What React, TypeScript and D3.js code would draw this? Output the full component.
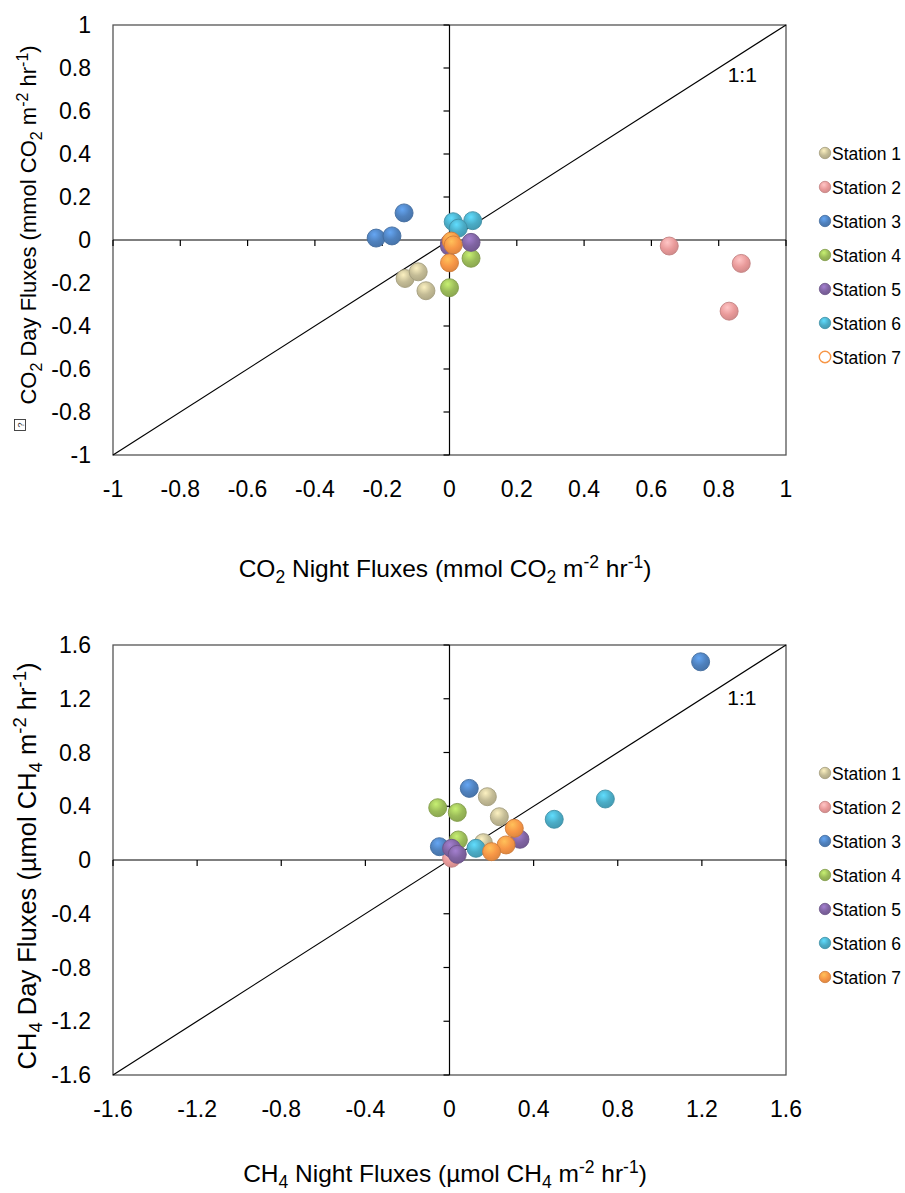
import React from "react";
import * as d3 from "d3";

const stations = ["Station 1", "Station 2", "Station 3", "Station 4", "Station 5", "Station 6", "Station 7"];
const stationColors = ["#C4BC96", "#E99A9A", "#4F81BD", "#9BBB59", "#8064A2", "#4BACC6", "#F79646"];

// CO2 fluxes (mmol CO2 m-2 hr-1): night (x) vs day (y), per station
const co2Night = [
  [-0.132, -0.093, -0.07],
  [0.653, 0.867, 0.831],
  [-0.135, -0.218, -0.171],
  [0.064, 0.0],
  [0.064, 0.0, 0.0],
  [0.011, 0.069, 0.026],
  [0.005, 0.011, 0.0],
];
const co2Day = [
  [-0.179, -0.148, -0.236],
  [-0.028, -0.109, -0.331],
  [0.126, 0.009, 0.019],
  [-0.085, -0.222],
  [-0.011, -0.015, -0.03],
  [0.085, 0.09, 0.055],
  [-0.005, -0.023, -0.106],
];

// CH4 fluxes (umol CH4 m-2 hr-1): night (x) vs day (y), per station
const ch4Night = [
  [0.18, 0.237, 0.161],
  [0.01],
  [1.194, 0.094, -0.048],
  [-0.056, 0.037, 0.042],
  [0.335, 0.01, 0.037],
  [0.126, 0.498, 0.741],
  [0.308, 0.269, 0.2],
];
const ch4Day = [
  [0.471, 0.322, 0.129],
  [0.013],
  [1.475, 0.533, 0.099],
  [0.389, 0.354, 0.149],
  [0.154, 0.087, 0.042],
  [0.087, 0.303, 0.454],
  [0.236, 0.112, 0.062],
];

const co2Ticks = [-1, -0.8, -0.6, -0.4, -0.2, 0, 0.2, 0.4, 0.6, 0.8, 1];
const ch4Ticks = [-1.6, -1.2, -0.8, -0.4, 0, 0.4, 0.8, 1.2, 1.6];

type Seg = { t: string; s?: "sub" | "sup" };

const co2XTitle: Seg[] = [
  { t: "CO" }, { t: "2", s: "sub" }, { t: " Night Fluxes (mmol CO" }, { t: "2", s: "sub" },
  { t: " m" }, { t: "-2", s: "sup" }, { t: " hr" }, { t: "-1", s: "sup" }, { t: ")" },
];
const co2YTitle: Seg[] = [
  { t: "CO" }, { t: "2", s: "sub" }, { t: " Day Fluxes (mmol CO" }, { t: "2", s: "sub" },
  { t: " m" }, { t: "-2", s: "sup" }, { t: " hr" }, { t: "-1", s: "sup" }, { t: ")" },
];
const ch4XTitle: Seg[] = [
  { t: "CH" }, { t: "4", s: "sub" }, { t: " Night Fluxes (µmol CH" }, { t: "4", s: "sub" },
  { t: " m" }, { t: "-2", s: "sup" }, { t: " hr" }, { t: "-1", s: "sup" }, { t: ")" },
];
const ch4YTitle: Seg[] = [
  { t: "CH" }, { t: "4", s: "sub" }, { t: " Day Fluxes (µmol CH" }, { t: "4", s: "sub" },
  { t: " m" }, { t: "-2", s: "sup" }, { t: " hr" }, { t: "-1", s: "sup" }, { t: ")" },
];

const FONT = "Liberation Sans, Arial, sans-serif";

function RichText({ segs, size, small, x, y, transform, anchor = "middle" }: { segs: Seg[]; size: number; small: number; x: number; y: number; transform?: string; anchor?: string }) {
  let cur = 0;
  return (
    <text x={x} y={y} transform={transform} textAnchor={anchor} fontFamily={FONT} fontSize={size} fill="#000">
      {segs.map((sg, i) => {
        const target = sg.s === "sub" ? size * 0.25 : sg.s === "sup" ? -size * 0.38 : 0;
        const dy = target - cur;
        cur = target;
        return (
          <tspan key={i} dy={dy} fontSize={sg.s ? small : size}>
            {sg.t}
          </tspan>
        );
      })}
    </text>
  );
}

function Gradients() {
  return (
    <defs>
      {stationColors.map((c, i) => {
        const col = d3.color(c)!;
        return (
          <radialGradient key={i} id={`g${i}`} cx="40%" cy="30%" r="75%">
            <stop offset="0%" stopColor={d3.color(c)!.brighter(0.7).formatHex()} />
            <stop offset="55%" stopColor={col.formatHex()} />
            <stop offset="100%" stopColor={d3.color(c)!.darker(0.35).formatHex()} />
          </radialGradient>
        );
      })}
    </defs>
  );
}

type PanelProps = {
  top: number;
  bottom: number;
  domain: [number, number];
  ticks: number[];
  xs: number[][];
  ys: number[][];
  xTitle: Seg[];
  yTitle: Seg[];
  yTitleCenter: number;
  yTitleSize: [number, number];
  xTitleY: number;
  legendTop: number;
  hollowLast: boolean;
  oneToOne: [number, number];
  tickFmt: (v: number) => string;
  glyph?: boolean;
};

function Panel(p: PanelProps) {
  const left = 113, right = 786;
  const x = d3.scaleLinear().domain(p.domain).range([left, right]);
  const y = d3.scaleLinear().domain(p.domain).range([p.bottom, p.top]);
  const x0 = x(0), y0 = y(0);
  const tickLen = 6;
  return (
    <g>
      <rect x={left} y={p.top} width={right - left} height={p.bottom - p.top} fill="none" stroke="#555" strokeWidth={1.3} />
      {/* 1:1 line */}
      <line x1={x(p.domain[0])} y1={y(p.domain[0])} x2={x(p.domain[1])} y2={y(p.domain[1])} stroke="#000" strokeWidth={1.2} />
      {/* zero axes */}
      <line x1={left} x2={right} y1={y0} y2={y0} stroke="#000" strokeWidth={1.2} />
      <line x1={x0} x2={x0} y1={p.top} y2={p.bottom} stroke="#000" strokeWidth={1.2} />
      {p.ticks.map((t, i) => (
        <g key={i}>
          <line x1={x(t)} x2={x(t)} y1={y0} y2={y0 + tickLen} stroke="#000" strokeWidth={1.2} />
          <line x1={x0 - tickLen} x2={x0} y1={y(t)} y2={y(t)} stroke="#000" strokeWidth={1.2} />
          <text x={x(t)} y={p.bottom + 42} textAnchor="middle" fontFamily={FONT} fontSize={23} fill="#000">{p.tickFmt(t)}</text>
          <text x={91} y={y(t) + 8} textAnchor="end" fontFamily={FONT} fontSize={23} fill="#000">{p.tickFmt(t)}</text>
        </g>
      ))}
      <text x={x(p.oneToOne[0])} y={y(p.oneToOne[1]) + 8} textAnchor="middle" fontFamily={FONT} fontSize={21} fill="#000">1:1</text>
      {/* points */}
      {p.xs.map((arr, si) =>
        arr.map((v, j) => (
          <circle key={`${si}-${j}`} cx={x(v)} cy={y(p.ys[si][j])} r={9} fill={`url(#g${si})`} stroke={d3.color(stationColors[si])!.darker(0.5).formatHex()} strokeWidth={0.9} />
        ))
      )}
      {/* legend */}
      {stations.map((s, i) => {
        const ly = p.legendTop + i * 34;
        const hollow = p.hollowLast && i === stations.length - 1;
        return (
          <g key={s}>
            <circle cx={825} cy={ly} r={5.7} fill={hollow ? "#fff" : `url(#g${i})`} stroke={hollow ? stationColors[i] : d3.color(stationColors[i])!.darker(0.5).formatHex()} strokeWidth={hollow ? 1.4 : 0.8} />
            <text x={832} y={ly + 6.5} fontFamily={FONT} fontSize={17.5} fill="#000">{s}</text>
          </g>
        );
      })}
      <RichText segs={p.xTitle} size={24.5} small={17.5} x={445} y={p.xTitleY} />
      <RichText segs={p.yTitle} size={p.yTitleSize[0]} small={p.yTitleSize[1]} x={-p.yTitleCenter} y={36} transform="rotate(-90)" />
      {p.glyph && (
        <g transform={`translate(20,425) rotate(-90)`}>
          <rect x={-5.5} y={-5.5} width={11} height={11} fill="#fff" stroke="#333" strokeWidth={0.9} />
          <text x={0} y={3.5} textAnchor="middle" fontFamily={FONT} fontSize={9} fill="#333">?</text>
        </g>
      )}
    </g>
  );
}

export default function App() {
  const fmt = (v: number) => (Math.abs(v) < 1e-9 ? "0" : String(+v.toFixed(1)));
  return (
    <svg width={905} height={1193} style={{ position: "absolute", left: 0, top: 0, background: "#fff" }}>
      <Gradients />
      <Panel
        top={25}
        bottom={455}
        domain={[-1, 1]}
        ticks={co2Ticks}
        xs={co2Night}
        ys={co2Day}
        xTitle={co2XTitle}
        yTitle={co2YTitle}
        yTitleCenter={225}
        yTitleSize={[22, 16]}
        xTitleY={577}
        legendTop={153}
        hollowLast={true}
        oneToOne={[0.87, 0.77]}
        tickFmt={fmt}
        glyph={true}
      />
      <Panel
        top={645}
        bottom={1075}
        domain={[-1.6, 1.6]}
        ticks={ch4Ticks}
        xs={ch4Night}
        ys={ch4Day}
        xTitle={ch4XTitle}
        yTitle={ch4YTitle}
        yTitleCenter={866}
        yTitleSize={[25.5, 18.5]}
        xTitleY={1182}
        legendTop={773}
        hollowLast={false}
        oneToOne={[1.39, 1.213]}
        tickFmt={fmt}
      />
    </svg>
  );
}
